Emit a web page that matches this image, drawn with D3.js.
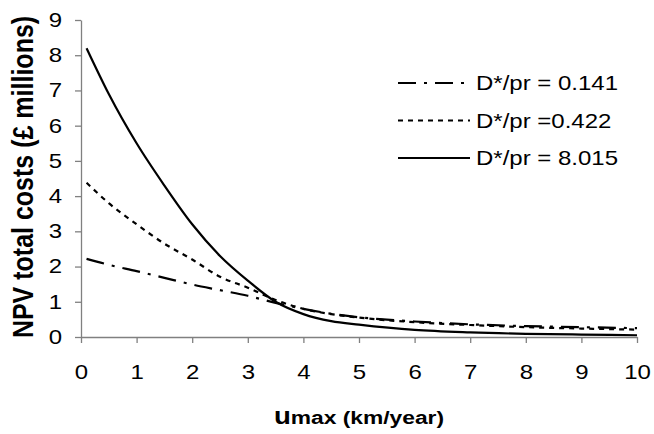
<!DOCTYPE html>
<html>
<head>
<meta charset="utf-8">
<script src="https://cdn.jsdelivr.net/npm/d3@7"></script>
<style>
  body { margin: 0; background: #fff; }
  text { font-family: "Liberation Sans", Arial, sans-serif; fill: #000; }
</style>
</head>
<body>
<div id="chart"></div>
<script>
// umax values (km/year)
const umax = [0.1, 0.5, 1, 1.5, 2, 2.5, 3, 3.5, 4, 4.5, 5, 6, 7, 8, 9, 10];
// NPV total costs (£ millions), one array per D*/pr
const cost0141 = [2.22, 2.05, 1.87, 1.68, 1.49, 1.33, 1.17, 0.97, 0.8, 0.66, 0.56, 0.44, 0.36, 0.31, 0.28, 0.25];
const cost0422 = [4.38, 3.8, 3.2, 2.65, 2.2, 1.71, 1.4, 1.05, 0.8, 0.65, 0.55, 0.42, 0.34, 0.28, 0.24, 0.21];
const cost8015 = [8.2, 6.9, 5.5, 4.3, 3.2, 2.3, 1.6, 1.0, 0.65, 0.45, 0.35, 0.2, 0.13, 0.09, 0.07, 0.05];
const seriesNames = ["D*/pr = 0.141", "D*/pr =0.422", "D*/pr = 8.015"];
const xTicks = [0, 1, 2, 3, 4, 5, 6, 7, 8, 9, 10];
const yTicks = [0, 1, 2, 3, 4, 5, 6, 7, 8, 9];

const W = 654, H = 434;
const svg = d3.select("#chart").append("svg")
  .attr("width", W).attr("height", H);

const x = d3.scaleLinear().domain([0, 10]).range([81, 637]);
const y = d3.scaleLinear().domain([0, 9]).range([337, 20]);
const fs = 20;
const sx = 1.2; // text in the original is stretched sideways

// axes
const xAxis = svg.append("g").attr("transform", "translate(0," + y(0) + ")")
  .call(d3.axisBottom(x).tickValues(xTicks).tickSize(6).tickSizeOuter(0).tickPadding(22));
const yAxis = svg.append("g").attr("transform", "translate(" + x(0) + ",0)")
  .call(d3.axisLeft(y).tickValues(yTicks).tickSize(6).tickSizeOuter(0));
[xAxis, yAxis].forEach(a => {
  a.select(".domain").attr("stroke", "#808080").attr("stroke-width", 1.3);
  a.selectAll(".tick line").attr("stroke", "#808080").attr("stroke-width", 1.3);
  a.selectAll(".tick text").attr("font-size", fs)
    .attr("font-family", "Liberation Sans, Arial, sans-serif").attr("fill", "#000");
});
xAxis.selectAll(".tick text").attr("dy", "0.71em").attr("transform", "scale(" + sx + ",1)");
yAxis.selectAll(".tick text").attr("x", 0)
  .attr("transform", "translate(-19,0) scale(" + sx + ",1)");

// lines
const series = [
  { name: seriesNames[0], values: cost0141, dash: "18,8,3,8" },
  { name: seriesNames[1], values: cost0422, dash: "5,5" },
  { name: seriesNames[2], values: cost8015, dash: null }
];
const line = d3.line().x(d => x(d[0])).y(d => y(d[1])).curve(d3.curveMonotoneX);
series.forEach(s => {
  svg.append("path")
    .datum(umax.map((u, i) => [u, s.values[i]]))
    .attr("d", line)
    .attr("fill", "none")
    .attr("stroke", "#000")
    .attr("stroke-width", 2.2)
    .attr("stroke-dasharray", s.dash);
});

// legend
const legend = svg.append("g");
series.forEach((s, i) => {
  const ly = 83 + i * 37.5;
  legend.append("line")
    .attr("x1", 398).attr("x2", 470).attr("y1", ly).attr("y2", ly)
    .attr("stroke", "#000").attr("stroke-width", 2.2)
    .attr("stroke-dasharray", s.dash);
  legend.append("text")
    .attr("transform", "translate(476," + ly + ") scale(" + sx + ",1)")
    .attr("dy", "0.35em")
    .attr("font-size", fs).text(s.name);
});

// axis titles
const xt = svg.append("text")
  .attr("transform", "translate(359,417) scale(" + sx + ",1)")
  .attr("dy", "0.35em")
  .attr("text-anchor", "middle").attr("font-weight", "bold").attr("font-size", 19);
xt.append("tspan").attr("font-size", 23).text("u");
xt.append("tspan").text("max (km/year)");

svg.append("text")
  .attr("transform", "translate(22,177) scale(" + sx + ",1) rotate(-90)")
  .attr("dy", "0.35em")
  .attr("text-anchor", "middle").attr("font-weight", "bold").attr("font-size", 25)
  .text("NPV total costs (£ millions)");
</script>
</body>
</html>
